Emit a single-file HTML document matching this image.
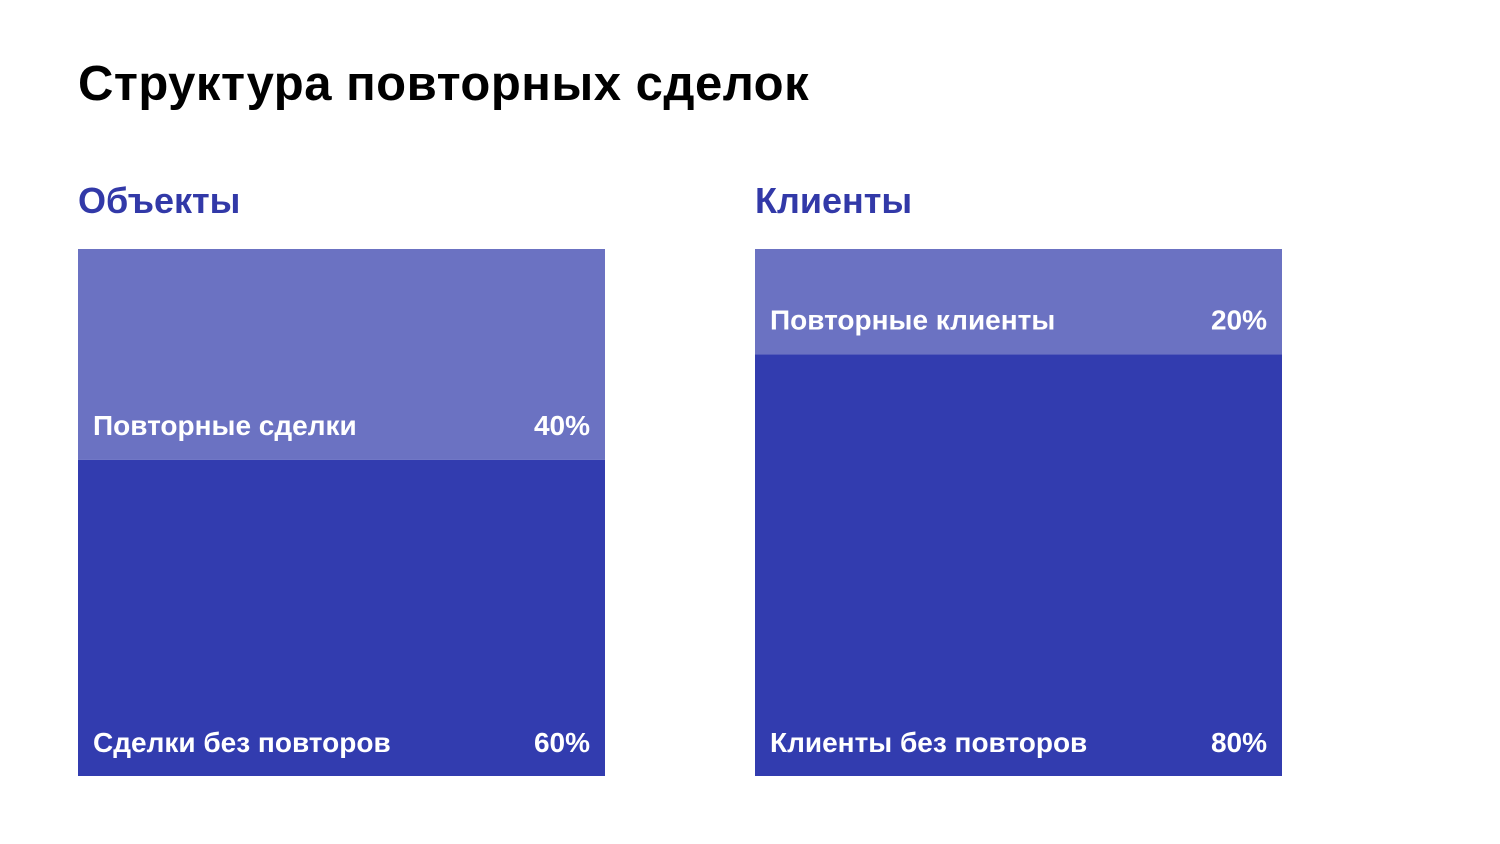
<!DOCTYPE html>
<html><head><meta charset="utf-8">
<style>
body{margin:0;width:1500px;height:844px;background:#fff;font-family:"Liberation Sans","DejaVu Sans",sans-serif;overflow:hidden;position:relative}
h1{position:absolute;left:78px;top:56px;margin:0;font-size:49px;font-weight:bold;color:#000;letter-spacing:0.5px}
.sub{position:absolute;top:180px;margin:0;font-size:36px;font-weight:bold;color:#3239a8}
svg{position:absolute;left:0;top:0}
</style></head><body>
<h1>Структура повторных сделок</h1>
<div class="sub" style="left:78px">Объекты</div>
<div class="sub" style="left:755px">Клиенты</div>
<svg id="c" width="1500" height="844"></svg>
<script>
const panels = ["objects","clients"];
const topLabels = ["Повторные сделки","Повторные клиенты"];
const bottomLabels = ["Сделки без повторов","Клиенты без повторов"];
const topValues = [40,20];
const bottomValues = [60,80];
const svg=document.getElementById('c');
const NS='http://www.w3.org/2000/svg';
const boxX=[78,755], boxW=527, boxTop=249, boxH=527;
const y=v=>v/100*boxH;
function el(t,a){const e=document.createElementNS(NS,t);for(const k in a)e.setAttribute(k,a[k]);svg.appendChild(e);return e;}
function label(txt,x,yy,anchor,name){const t=el('text',{x:x,y:yy,'text-anchor':anchor,fill:'#fff','font-size':28,'font-weight':'bold','font-family':'"Liberation Sans",sans-serif'});t.textContent=txt;}
panels.forEach((p,i)=>{
  const tot=topValues[i]+bottomValues[i];
  const hTop=y(topValues[i]/tot*100), hBot=boxH-hTop;
  const r1=el('rect',{x:boxX[i],y:boxTop,width:boxW,height:hTop,fill:'#6b72c2'});
  
  
  const r2=el('rect',{x:boxX[i],y:boxTop+hTop,width:boxW,height:hBot,fill:'#323caf'});
  
  
  const ly1=boxTop+hTop-25, ly2=boxTop+boxH-24;
  label(topLabels[i],boxX[i]+15,ly1,'start',p+'-top-label');
  label(topValues[i]+'%',boxX[i]+boxW-15,ly1,'end',p+'-top-value');
  label(bottomLabels[i],boxX[i]+15,ly2,'start',p+'-bottom-label');
  label(bottomValues[i]+'%',boxX[i]+boxW-15,ly2,'end',p+'-bottom-value');
});
</script>
</body></html>
